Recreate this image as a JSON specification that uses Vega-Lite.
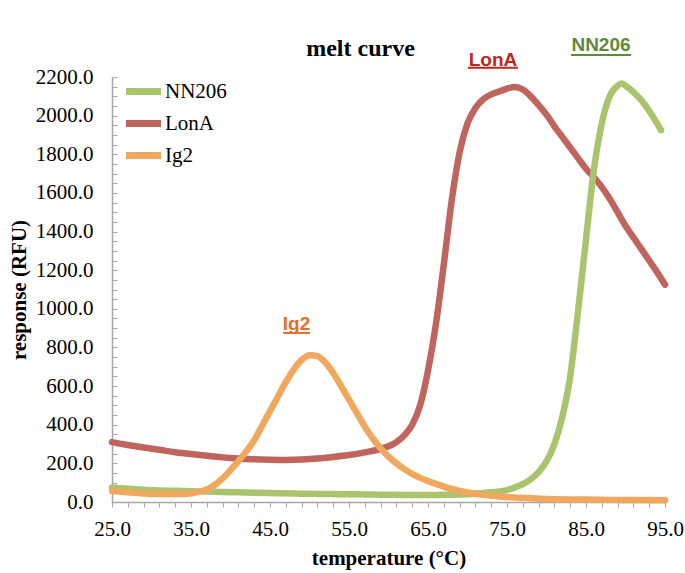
{
  "$schema": "https://vega.github.io/schema/vega-lite/v6.json",
  "width": 553,
  "height": 425,
  "autosize": "none",
  "padding": {"left": 112, "top": 77, "right": 20, "bottom": 71},
  "background": "white",
  "config": {"view": {"stroke": null}},
  "title": {"text": "melt curve", "font": "Liberation Serif", "fontSize": 24, "fontWeight": "bold", "color": "black", "anchor": "middle", "dx": -28, "offset": -25},
  "datasets": {
    "curves": [
      {"s": "LonA", "t": 25, "v": 310}, {"s": "LonA", "t": 27, "v": 295}, {"s": "LonA", "t": 29, "v": 282}, {"s": "LonA", "t": 31, "v": 270}, {"s": "LonA", "t": 33, "v": 258}, {"s": "LonA", "t": 35, "v": 248}, {"s": "LonA", "t": 37, "v": 239}, {"s": "LonA", "t": 39, "v": 231}, {"s": "LonA", "t": 41, "v": 225}, {"s": "LonA", "t": 43, "v": 221}, {"s": "LonA", "t": 45, "v": 219}, {"s": "LonA", "t": 47, "v": 218}, {"s": "LonA", "t": 49, "v": 220}, {"s": "LonA", "t": 51, "v": 225}, {"s": "LonA", "t": 53, "v": 233}, {"s": "LonA", "t": 55, "v": 243}, {"s": "LonA", "t": 57, "v": 257}, {"s": "LonA", "t": 59, "v": 275}, {"s": "LonA", "t": 61, "v": 310}, {"s": "LonA", "t": 62, "v": 345}, {"s": "LonA", "t": 63, "v": 400}, {"s": "LonA", "t": 64, "v": 500}, {"s": "LonA", "t": 65, "v": 680}, {"s": "LonA", "t": 66, "v": 920}, {"s": "LonA", "t": 67, "v": 1230}, {"s": "LonA", "t": 68, "v": 1560}, {"s": "LonA", "t": 69, "v": 1810}, {"s": "LonA", "t": 70, "v": 1960}, {"s": "LonA", "t": 71, "v": 2040}, {"s": "LonA", "t": 72, "v": 2085}, {"s": "LonA", "t": 73, "v": 2110}, {"s": "LonA", "t": 74, "v": 2125}, {"s": "LonA", "t": 75, "v": 2140}, {"s": "LonA", "t": 76, "v": 2148}, {"s": "LonA", "t": 77, "v": 2135}, {"s": "LonA", "t": 78, "v": 2100}, {"s": "LonA", "t": 79, "v": 2055}, {"s": "LonA", "t": 80, "v": 2005}, {"s": "LonA", "t": 81, "v": 1945}, {"s": "LonA", "t": 82, "v": 1890}, {"s": "LonA", "t": 83, "v": 1835}, {"s": "LonA", "t": 84, "v": 1780}, {"s": "LonA", "t": 85, "v": 1725}, {"s": "LonA", "t": 86, "v": 1680}, {"s": "LonA", "t": 87, "v": 1630}, {"s": "LonA", "t": 88, "v": 1570}, {"s": "LonA", "t": 89, "v": 1500}, {"s": "LonA", "t": 90, "v": 1430}, {"s": "LonA", "t": 91, "v": 1370}, {"s": "LonA", "t": 92, "v": 1310}, {"s": "LonA", "t": 93, "v": 1250}, {"s": "LonA", "t": 94, "v": 1190}, {"s": "LonA", "t": 95, "v": 1125},
      {"s": "NN206", "t": 25, "v": 75}, {"s": "NN206", "t": 27, "v": 68}, {"s": "NN206", "t": 29, "v": 63}, {"s": "NN206", "t": 31, "v": 60}, {"s": "NN206", "t": 33, "v": 58}, {"s": "NN206", "t": 35, "v": 56}, {"s": "NN206", "t": 37, "v": 54}, {"s": "NN206", "t": 39, "v": 52}, {"s": "NN206", "t": 41, "v": 50}, {"s": "NN206", "t": 43, "v": 48}, {"s": "NN206", "t": 45, "v": 46}, {"s": "NN206", "t": 47, "v": 45}, {"s": "NN206", "t": 49, "v": 43}, {"s": "NN206", "t": 51, "v": 42}, {"s": "NN206", "t": 53, "v": 41}, {"s": "NN206", "t": 55, "v": 40}, {"s": "NN206", "t": 57, "v": 39}, {"s": "NN206", "t": 59, "v": 38}, {"s": "NN206", "t": 61, "v": 37}, {"s": "NN206", "t": 63, "v": 36}, {"s": "NN206", "t": 65, "v": 36}, {"s": "NN206", "t": 67, "v": 37}, {"s": "NN206", "t": 69, "v": 39}, {"s": "NN206", "t": 71, "v": 43}, {"s": "NN206", "t": 73, "v": 50}, {"s": "NN206", "t": 75, "v": 62}, {"s": "NN206", "t": 76, "v": 75}, {"s": "NN206", "t": 77, "v": 92}, {"s": "NN206", "t": 78, "v": 118}, {"s": "NN206", "t": 79, "v": 155}, {"s": "NN206", "t": 80, "v": 210}, {"s": "NN206", "t": 81, "v": 300}, {"s": "NN206", "t": 82, "v": 440}, {"s": "NN206", "t": 83, "v": 650}, {"s": "NN206", "t": 84, "v": 990}, {"s": "NN206", "t": 85, "v": 1360}, {"s": "NN206", "t": 86, "v": 1720}, {"s": "NN206", "t": 87, "v": 1960}, {"s": "NN206", "t": 88, "v": 2100}, {"s": "NN206", "t": 89, "v": 2155}, {"s": "NN206", "t": 89.5, "v": 2166}, {"s": "NN206", "t": 90, "v": 2155}, {"s": "NN206", "t": 91, "v": 2122}, {"s": "NN206", "t": 92, "v": 2080}, {"s": "NN206", "t": 93, "v": 2025}, {"s": "NN206", "t": 94, "v": 1960}, {"s": "NN206", "t": 94.5, "v": 1925},
      {"s": "Ig2", "t": 25, "v": 57}, {"s": "Ig2", "t": 27, "v": 50}, {"s": "Ig2", "t": 29, "v": 44}, {"s": "Ig2", "t": 31, "v": 41}, {"s": "Ig2", "t": 33, "v": 41}, {"s": "Ig2", "t": 35, "v": 44}, {"s": "Ig2", "t": 36, "v": 52}, {"s": "Ig2", "t": 37, "v": 65}, {"s": "Ig2", "t": 38, "v": 88}, {"s": "Ig2", "t": 39, "v": 122}, {"s": "Ig2", "t": 40, "v": 165}, {"s": "Ig2", "t": 41, "v": 212}, {"s": "Ig2", "t": 42, "v": 262}, {"s": "Ig2", "t": 43, "v": 320}, {"s": "Ig2", "t": 44, "v": 395}, {"s": "Ig2", "t": 45, "v": 470}, {"s": "Ig2", "t": 46, "v": 545}, {"s": "Ig2", "t": 47, "v": 620}, {"s": "Ig2", "t": 48, "v": 685}, {"s": "Ig2", "t": 49, "v": 735}, {"s": "Ig2", "t": 50, "v": 760}, {"s": "Ig2", "t": 51, "v": 755}, {"s": "Ig2", "t": 52, "v": 722}, {"s": "Ig2", "t": 53, "v": 668}, {"s": "Ig2", "t": 54, "v": 600}, {"s": "Ig2", "t": 55, "v": 530}, {"s": "Ig2", "t": 56, "v": 460}, {"s": "Ig2", "t": 57, "v": 390}, {"s": "Ig2", "t": 58, "v": 330}, {"s": "Ig2", "t": 59, "v": 278}, {"s": "Ig2", "t": 60, "v": 235}, {"s": "Ig2", "t": 61, "v": 200}, {"s": "Ig2", "t": 62, "v": 170}, {"s": "Ig2", "t": 63, "v": 146}, {"s": "Ig2", "t": 64, "v": 125}, {"s": "Ig2", "t": 65, "v": 109}, {"s": "Ig2", "t": 66, "v": 94}, {"s": "Ig2", "t": 67, "v": 80}, {"s": "Ig2", "t": 68, "v": 68}, {"s": "Ig2", "t": 70, "v": 49}, {"s": "Ig2", "t": 72, "v": 37}, {"s": "Ig2", "t": 74, "v": 29}, {"s": "Ig2", "t": 76, "v": 23}, {"s": "Ig2", "t": 78, "v": 19}, {"s": "Ig2", "t": 80, "v": 16}, {"s": "Ig2", "t": 84, "v": 13}, {"s": "Ig2", "t": 88, "v": 11}, {"s": "Ig2", "t": 92, "v": 10}, {"s": "Ig2", "t": 95, "v": 9}
    ],
    "notes": [
      {"label": "LonA", "t": 73.23, "v": 2290, "t1": 70.06, "t2": 76.39, "u": 2248},
      {"label": "NN206", "t": 86.9, "v": 2366, "t1": 83.1, "t2": 90.7, "u": 2314},
      {"label": "Ig2", "t": 48.35, "v": 919, "t1": 46.65, "t2": 50.06, "u": 875}
    ]
  },
  "layer": [
    {
      "data": {"name": "curves"},
      "mark": {"type": "line", "interpolate": "monotone", "strokeWidth": 6.5, "strokeCap": "round", "strokeJoin": "round", "clip": false},
      "encoding": {
        "x": {
          "field": "t", "type": "quantitative",
          "scale": {"domain": [25, 95], "nice": false, "zero": false},
          "axis": {
            "values": [25,27,29,31,33,35,37,39,41,43,45,47,49,51,53,55,57,59,61,63,65,67,69,71,73,75,77,79,81,83,85,87,89,91,93,95],
            "tickCount": 200,
            "labelExpr": "(datum.value - 25) % 10 === 0 ? format(datum.value, '.1f') : ''",
            "labelOverlap": false, "labelSeparation": -1000, "labelFlush": false,
            "labelFont": "Liberation Serif", "labelFontSize": 21, "labelColor": "black", "labelPadding": 11,
            "domainColor": "#a6a6a6", "domainWidth": 1.5, "tickColor": "#a6a6a6", "tickSize": 5, "tickWidth": 1,
            "grid": false,
            "title": "temperature (°C)", "titleFont": "Liberation Serif", "titleFontSize": 21, "titleFontWeight": "bold", "titleColor": "black", "titlePadding": 8
          }
        },
        "y": {
          "field": "v", "type": "quantitative",
          "scale": {"domain": [0, 2200], "nice": false},
          "axis": {
            "values": [0,50,100,150,200,250,300,350,400,450,500,550,600,650,700,750,800,850,900,950,1000,1050,1100,1150,1200,1250,1300,1350,1400,1450,1500,1550,1600,1650,1700,1750,1800,1850,1900,1950,2000,2050,2100,2150,2200],
            "tickCount": 200,
            "labelExpr": "datum.value % 200 === 0 ? format(datum.value, '.1f') : ''",
            "labelOverlap": false, "labelSeparation": -1000, "labelFlush": false,
            "labelFont": "Liberation Serif", "labelFontSize": 21, "labelColor": "black", "labelPadding": 24,
            "domainColor": "#a6a6a6", "domainWidth": 1.5, "tickColor": "#a6a6a6", "tickSize": -5, "tickWidth": 1,
            "grid": false,
            "title": "response (RFU)", "titleFont": "Liberation Serif", "titleFontSize": 21, "titleFontWeight": "bold", "titleColor": "black", "titlePadding": 6
          }
        },
        "color": {
          "field": "s", "type": "nominal",
          "scale": {"domain": ["NN206", "LonA", "Ig2"], "range": ["#A9C46C", "#C0645E", "#F0A85E"]},
          "legend": {
            "orient": "none", "legendX": 14, "legendY": -3, "direction": "vertical", "title": null,
            "symbolType": "M-1.25,0H1.25", "symbolSize": 784, "symbolStrokeWidth": 7,
            "labelFont": "Liberation Serif", "labelFontSize": 21, "labelColor": "black", "labelOffset": 4, "rowPadding": 0
          }
        }
      }
    },
    {
      "data": {"name": "notes"},
      "mark": {"type": "text", "font": "Liberation Sans", "fontSize": 19, "fontWeight": "bold", "baseline": "middle", "align": "center"},
      "encoding": {
        "x": {"field": "t", "type": "quantitative"},
        "y": {"field": "v", "type": "quantitative"},
        "text": {"field": "label"},
        "color": {"condition": [{"test": "datum.label === 'LonA'", "value": "#C0261E"}, {"test": "datum.label === 'NN206'", "value": "#5F8A3A"}], "value": "#E0702A"}
      }
    },
    {
      "data": {"name": "notes"},
      "mark": {"type": "rule", "strokeWidth": 2},
      "encoding": {
        "x": {"field": "t1", "type": "quantitative"},
        "x2": {"field": "t2"},
        "y": {"field": "u", "type": "quantitative"},
        "color": {"condition": [{"test": "datum.label === 'LonA'", "value": "#C0261E"}, {"test": "datum.label === 'NN206'", "value": "#5F8A3A"}], "value": "#E0702A"}
      }
    }
  ]
}
